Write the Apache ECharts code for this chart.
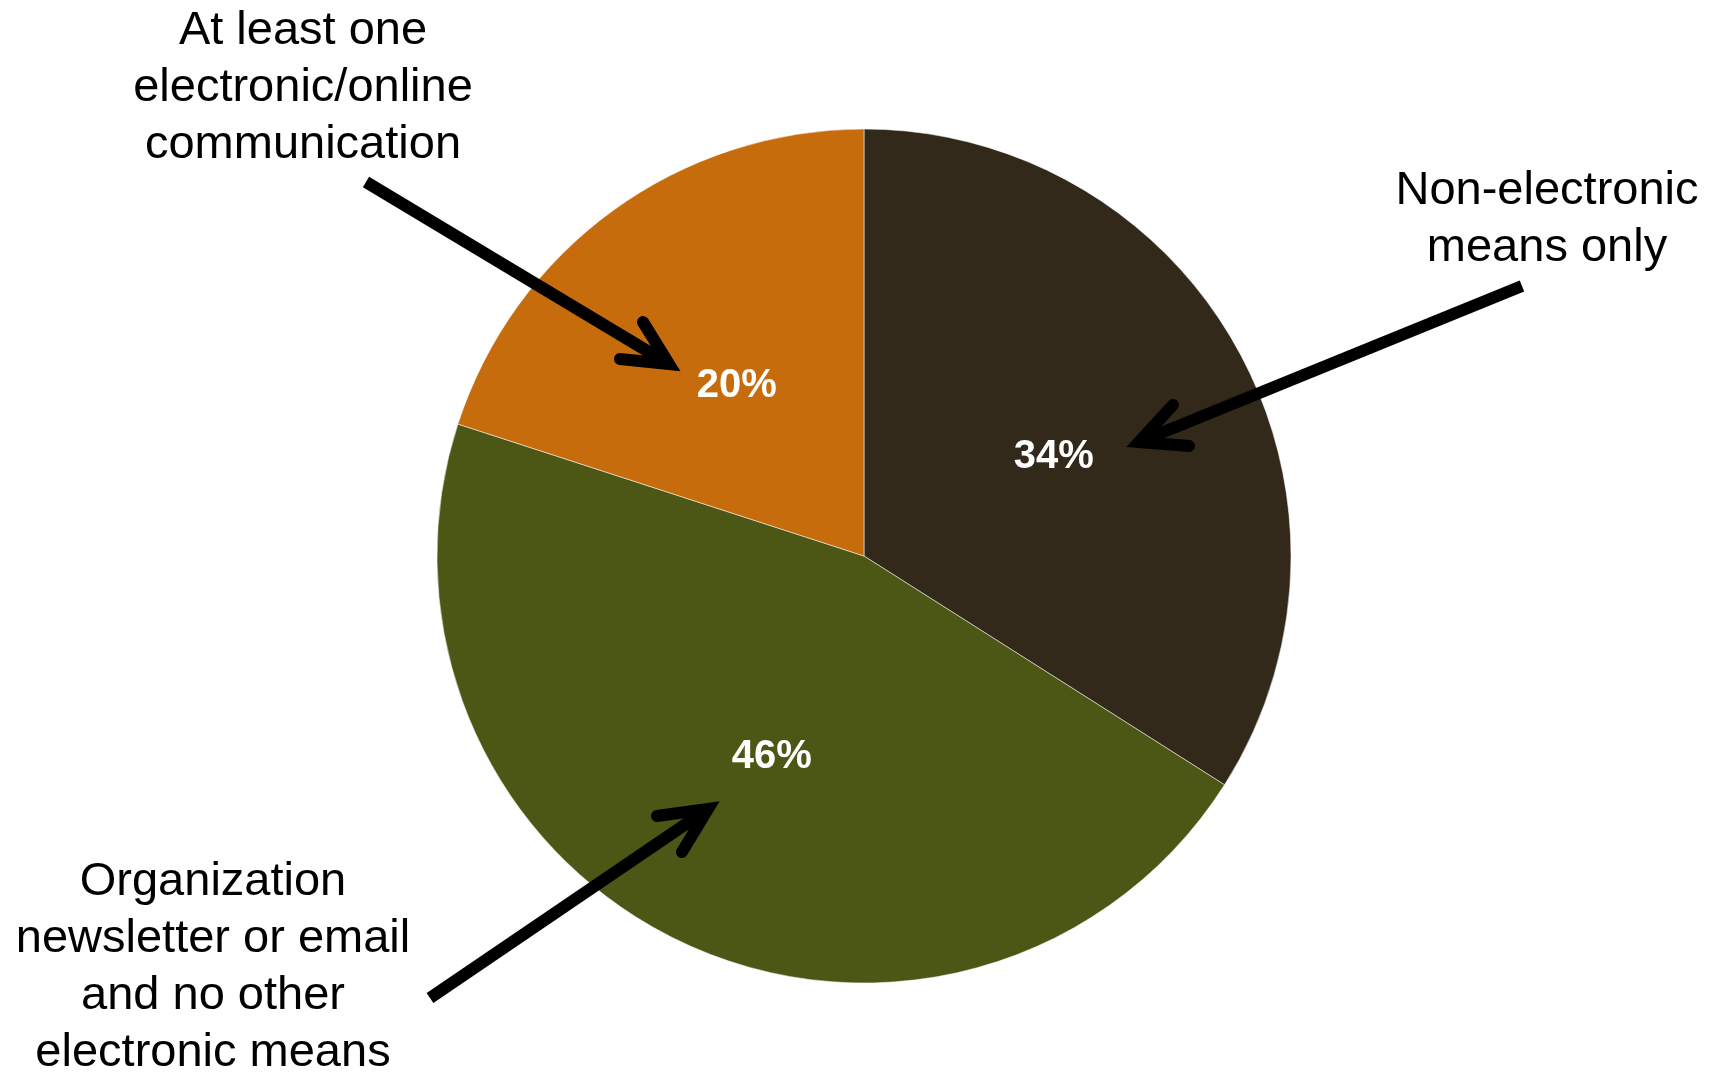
<!DOCTYPE html>
<html>
<head>
<meta charset="utf-8">
<script src="https://cdn.jsdelivr.net/npm/echarts@6/dist/echarts.min.js"></script>
<style>
  html, body { margin: 0; padding: 0; background: #fff; }
  #chart { width: 1723px; height: 1074px; }
</style>
</head>
<body>
<div id="chart"></div>
<script>
// slices, clockwise from 12 o'clock
var names = ['Non-electronic means only', 'Organization newsletter or email and no other electronic means', 'At least one electronic/online communication'];
var values = [34, 46, 20];
var colors = ['#32291a', '#4d5715', '#c66c0c'];

// callout texts
var callouts = [
    { text: 'At least one\nelectronic/online\ncommunication', x: 303, y: 88 },
    { text: 'Non-electronic\nmeans only', x: 1547, y: 220 },
    { text: 'Organization\nnewsletter or email\nand no other\nelectronic means', x: 213, y: 968 }
];
// arrows: shaft start, tip, two head ends
var arrows = [
    { from: [366, 182], tip: [669, 364], head: [[643, 322], [620, 359]] },
    { from: [1522, 286], tip: [1139, 442], head: [[1173, 405], [1189, 446]] },
    { from: [430, 998], tip: [708, 809], head: [[657, 816], [682, 852]] }
];

var chart = echarts.init(document.getElementById('chart'));

var graphics = [];
callouts.forEach(function (c) {
    graphics.push({
        type: 'text',
        x: c.x,
        y: c.y,
        z: 100,
        silent: true,
        style: {
            text: c.text,
            fill: '#000',
            font: '47px "Liberation Sans", Arial, sans-serif',
            lineHeight: 57,
            align: 'center',
            verticalAlign: 'middle'
        }
    });
});
arrows.forEach(function (a) {
    graphics.push({
        type: 'line',
        z: 100,
        silent: true,
        shape: { x1: a.from[0], y1: a.from[1], x2: a.tip[0], y2: a.tip[1] },
        style: { stroke: '#000', lineWidth: 12, lineCap: 'butt' }
    });
    graphics.push({
        type: 'polyline',
        z: 100,
        silent: true,
        shape: { points: [a.head[0], a.tip, a.head[1]] },
        style: { stroke: '#000', fill: null, lineWidth: 12, lineCap: 'round', lineJoin: 'miter' }
    });
});

var option = {
    backgroundColor: '#fff',
    animation: false,
    series: [{
        type: 'pie',
        center: [864, 556],
        radius: [0, 427],
        startAngle: 90,
        clockwise: true,
        silent: true,
        data: names.map(function (n, i) {
            return { name: n, value: values[i], itemStyle: { color: colors[i] } };
        }),
        itemStyle: { borderColor: 'rgba(255,255,255,0.5)', borderWidth: 1 },
        label: {
            show: true,
            position: 'inside',
            formatter: '{p|{c}%}',
            rich: {
                p: {
                    color: '#fff',
                    fontFamily: '"Liberation Sans", Arial, sans-serif',
                    fontWeight: 'bold',
                    fontSize: 40,
                    padding: [10, 0, 0, 0]
                }
            }
        },
        labelLine: { show: false }
    }],
    graphic: graphics
};

chart.setOption(option);
</script>
</body>
</html>
